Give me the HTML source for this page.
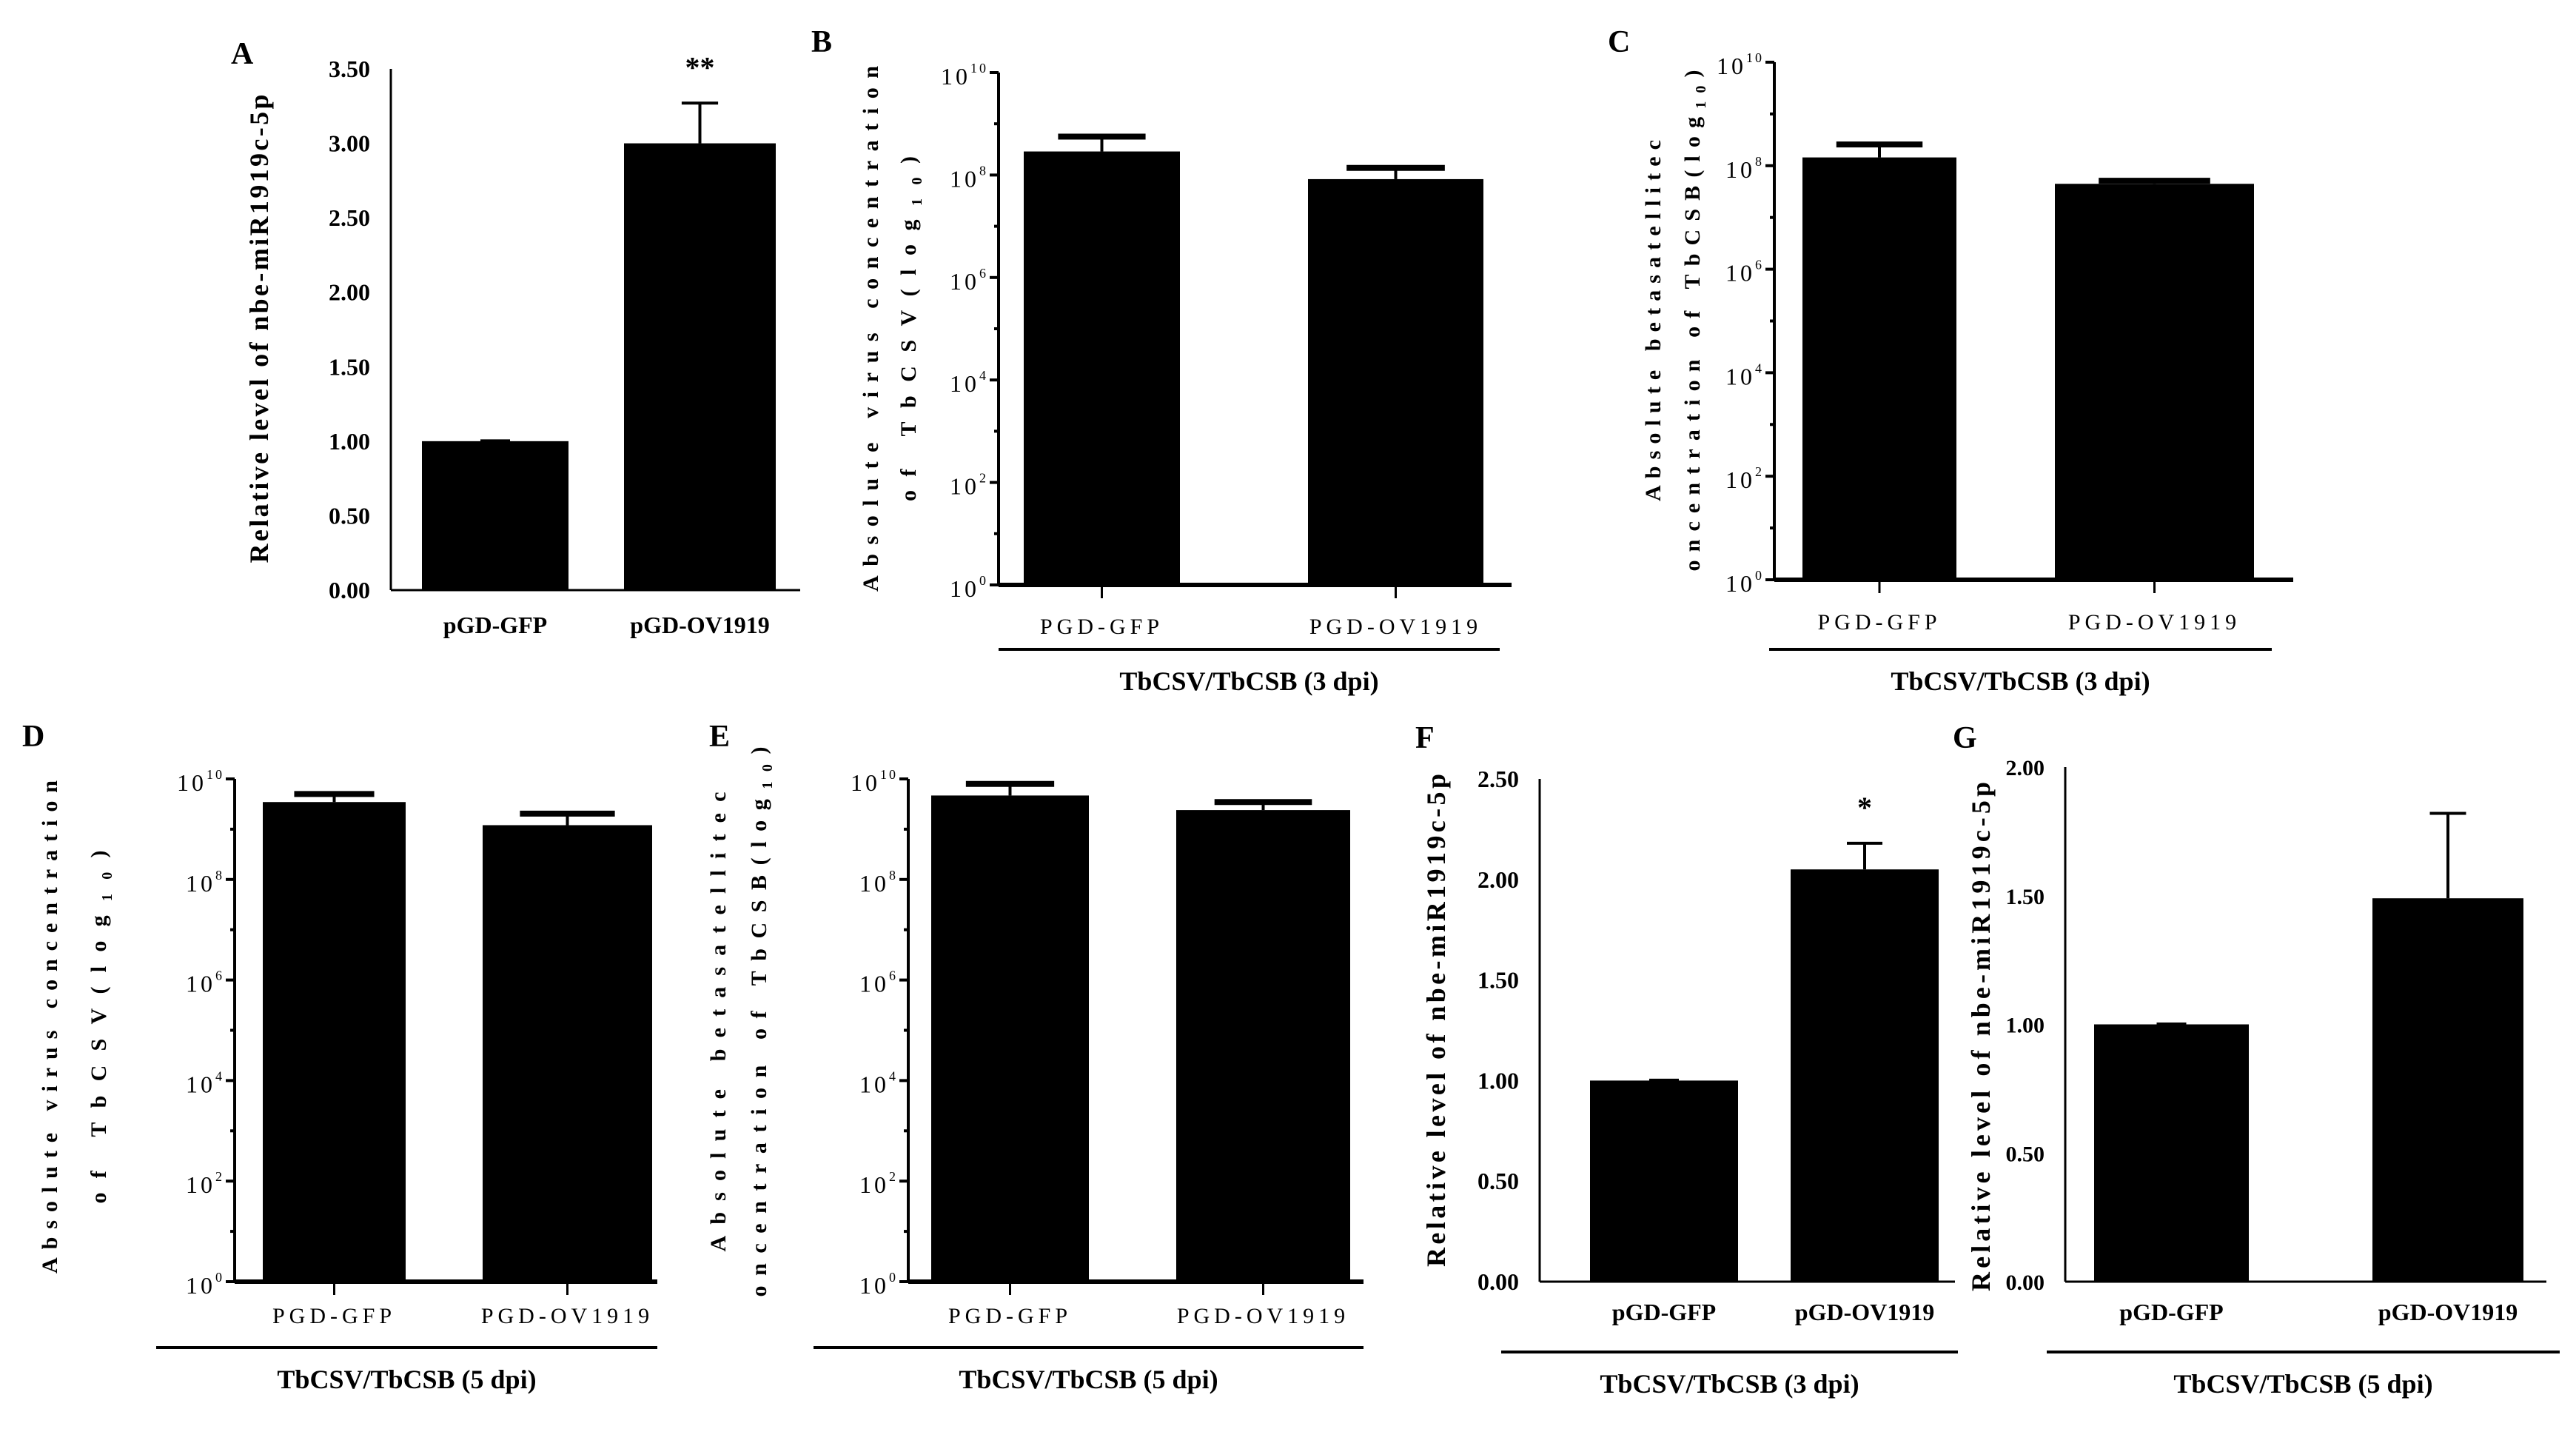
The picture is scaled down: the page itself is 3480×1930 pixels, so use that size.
<!DOCTYPE html>
<html><head><meta charset="utf-8"><style>
html,body{margin:0;padding:0;background:#fff;}
svg{display:block;font-family:"Liberation Serif",serif;}
</style></head><body>
<svg id="fig" width="3480" height="1930" viewBox="0 0 3480 1930" xmlns="http://www.w3.org/2000/svg"></svg>
<script>
const catsRel = ["pGD-GFP","pGD-OV1919"];
const catsLog = ["PGD-GFP","PGD-OV1919"];
const valsA = [1.00, 3.00];
const errA = [1.00, 3.27];
const valsF = [1.00, 2.05];
const errF = [1.00, 2.18];
const valsG = [1.00, 1.49];
const errG = [1.00, 1.82];
const logB = [8.46, 7.92];
const logErrB = [8.75, 8.14];
const logC = [8.16, 7.65];
const logErrC = [8.41, 7.71];
const logD = [9.54, 9.08];
const logErrD = [9.70, 9.31];
const logE = [9.67, 9.38];
const logErrE = [9.90, 9.54];
const ticksA = [0,0.5,1,1.5,2,2.5,3,3.5];
const ticksF = [0,0.5,1,1.5,2,2.5];
const ticksG = [0,0.5,1,1.5,2];
const logTicks = [0,2,4,6,8,10];

const NS="http://www.w3.org/2000/svg";
const svg=document.getElementById('fig');
function el(tag,attrs,parent){const e=document.createElementNS(NS,tag);for(const k in attrs)e.setAttribute(k,attrs[k]);(parent||svg).appendChild(e);return e;}

function panel(cfg){
  const g=el('g',{});
  
  
  const yMin=cfg.yMin,yMax=cfg.yMax;
  const ys=v=>cfg.y1-(v-yMin)/(yMax-yMin)*(cfg.y1-cfg.y0);
  const lw=cfg.log?6:3;
  const ya=el('line',{x1:cfg.ax,y1:cfg.y0,x2:cfg.ax,y2:cfg.y1,stroke:'#000','stroke-width':cfg.log?4:3},g);
  
  
  const xa=el('line',{x1:cfg.ax,y1:cfg.y1,x2:cfg.axEnd,y2:cfg.y1,stroke:'#000','stroke-width':lw},g);
  
  
  if(cfg.log){
    for(let e=yMin;e<=yMax;e++){
      const y=ys(e);
      const len=(e%2===0)?12:6;
      el('line',{x1:cfg.ax-len,y1:y,x2:cfg.ax,y2:y,stroke:'#000','stroke-width':4},g);
    }
    logTicks.forEach(t=>{
      const tx=el('text',{x:cfg.ax-14,y:ys(t)+16,'text-anchor':'end','font-size':32,fill:'#000'},g);
      
      
      const a=el('tspan',{'letter-spacing':4},tx);a.textContent='10';
      const b=el('tspan',{dy:-16,'font-size':18,'letter-spacing':3},tx);b.textContent=String(t);
    });
  } else {
    cfg.ticks.forEach(t=>{
      const tx=el('text',{x:cfg.ax-cfg.tickOff,y:ys(t)+11,'text-anchor':'end','font-size':cfg.tickFs,'font-weight':'bold',fill:'#000'},g);
      
      
      tx.textContent=t.toFixed(2);
    });
  }
  cfg.vals.forEach((v,i)=>{
    const x0=cfg.bars[i][0],x1=cfg.bars[i][1],cx=(x0+x1)/2;
    const r=el('rect',{x:x0,y:ys(v),width:x1-x0,height:cfg.y1-ys(v),fill:'#000'},g);
    
    
    const e=cfg.errs[i];
    if(e>v){
      const capW=cfg.log?(x1-x0)*0.28:(x1-x0)*0.12;
      el('line',{x1:cx,y1:ys(v),x2:cx,y2:ys(e),stroke:'#000','stroke-width':4},g);
      const c=el('line',{x1:cx-capW,y1:ys(e),x2:cx+capW,y2:ys(e),stroke:'#000','stroke-width':cfg.log?8:4},g);
      
      
    } else {
      el('line',{x1:cx-20,y1:ys(e)-1,x2:cx+20,y2:ys(e)-1,stroke:'#000','stroke-width':3},g);
    }
    if(cfg.log) el('line',{x1:cx,y1:cfg.y1,x2:cx,y2:cfg.y1+18,stroke:'#000','stroke-width':3},g);
    const lab=el('text',{x:cx,y:cfg.xLabY,'text-anchor':'middle','font-size':cfg.log?30:32,'font-weight':cfg.log?'normal':'bold','letter-spacing':cfg.log?6:0,fill:'#000'},g);
    
    
    lab.textContent=cfg.cats[i];
  });
  cfg.titles.forEach(t=>{
    const tx=el('text',{x:0,y:0,transform:`translate(${t.x},${t.cy}) rotate(-90)`,'text-anchor':'middle','font-size':cfg.log?30:36,'font-weight':'bold',fill:'#000',textLength:t.len,lengthAdjust:'spacing'},g);
    
    
    if(t.sub){
      const a=el('tspan',{},tx);a.textContent=t.text;
      const b=el('tspan',{'font-size':20,dy:8},tx);b.textContent='10';
      const c=el('tspan',{dy:-8},tx);c.textContent=')';
    } else tx.textContent=t.text;
  });
  if(cfg.br){
    const bl=el('line',{x1:cfg.br[0],y1:cfg.br[2],x2:cfg.br[1],y2:cfg.br[2],stroke:'#000','stroke-width':4},g);
    
    
    const bt=el('text',{x:(cfg.br[0]+cfg.br[1])/2,y:cfg.br[2]+55,'text-anchor':'middle','font-size':36,'font-weight':'bold',fill:'#000'},g);
    
    
    bt.textContent=cfg.brText;
  }
  if(cfg.sig){
    const s=el('text',{x:(cfg.bars[1][0]+cfg.bars[1][1])/2,y:ys(cfg.errs[1])-35,'text-anchor':'middle','font-size':40,'font-weight':'bold',fill:'#000'},g);
    
    
    s.textContent=cfg.sig;
  }
  const L=el('text',{x:cfg.letter[0],y:cfg.letter[1],'font-size':42,'font-weight':'bold',fill:'#000'},g);
  
  
  L.textContent=cfg.id;
}

panel({id:'A',log:false,yMin:0,yMax:3.5,ticks:ticksA,tickOff:28,tickFs:32,ax:528,axEnd:1081,y0:93,y1:797,bars:[[570,768],[843,1048]],vals:valsA,errs:errA,cats:catsRel,xLabY:855,
  titles:[{x:362,cy:444,len:633,text:'Relative level of nbe-miR1919c-5p'}],sig:'**',letter:[312,86]});
panel({id:'B',log:true,yMin:0,yMax:10,ax:1349,axEnd:2042,y0:98,y1:790,bars:[[1383,1594],[1767,2004]],vals:logB,errs:logErrB,cats:catsLog,xLabY:856,
  titles:[{x:1186,cy:444,len:710,text:'Absolute virus concentration'},{x:1237,cy:444,len:466,text:'of TbCSV(log',sub:true}],br:[1349,2026,877],brText:'TbCSV/TbCSB (3 dpi)',letter:[1096,70]});
panel({id:'C',log:true,yMin:0,yMax:10,ax:2397,axEnd:3098,y0:84,y1:783,bars:[[2435,2643],[2776,3045]],vals:logC,errs:logErrC,cats:catsLog,xLabY:850,
  titles:[{x:2243,cy:433,len:488,text:'Absolute betasatellitec'},{x:2296,cy:433,len:677,text:'oncentration of TbCSB(log',sub:true}],br:[2390,3069,877],brText:'TbCSV/TbCSB (3 dpi)',letter:[2172,70]});
panel({id:'D',log:true,yMin:0,yMax:10,ax:317,axEnd:888,y0:1052,y1:1731,bars:[[355,548],[652,881]],vals:logD,errs:logErrD,cats:catsLog,xLabY:1787,
  titles:[{x:77,cy:1387,len:666,text:'Absolute virus concentration'},{x:143,cy:1387,len:477,text:'of TbCSV(log',sub:true}],br:[211,888,1820],brText:'TbCSV/TbCSB (5 dpi)',letter:[30,1008]});
panel({id:'E',log:true,yMin:0,yMax:10,ax:1227,axEnd:1842,y0:1052,y1:1731,bars:[[1258,1471],[1589,1824]],vals:logE,errs:logErrE,cats:catsLog,xLabY:1787,
  titles:[{x:980,cy:1380,len:621,text:'Absolute betasatellitec'},{x:1035,cy:1380,len:743,text:'oncentration of TbCSB(log',sub:true}],br:[1099,1842,1820],brText:'TbCSV/TbCSB (5 dpi)',letter:[958,1008]});
panel({id:'F',log:false,yMin:0,yMax:2.5,ticks:ticksF,tickOff:28,tickFs:32,ax:2080,axEnd:2641,y0:1052,y1:1731,bars:[[2148,2348],[2419,2619]],vals:valsF,errs:errF,cats:catsRel,xLabY:1783,
  titles:[{x:1952,cy:1378,len:666,text:'Relative level of nbe-miR1919c-5p'}],br:[2028,2645,1826],brText:'TbCSV/TbCSB (3 dpi)',sig:'*',letter:[1912,1010]});
panel({id:'G',log:false,yMin:0,yMax:2.0,ticks:ticksG,tickOff:28,tickFs:30,ax:2790,axEnd:3440,y0:1036,y1:1731,bars:[[2829,3038],[3205,3409]],vals:valsG,errs:errG,cats:catsRel,xLabY:1783,
  titles:[{x:2688,cy:1400,len:688,text:'Relative level of nbe-miR1919c-5p'}],br:[2765,3458,1826],brText:'TbCSV/TbCSB (5 dpi)',letter:[2638,1010]});
</script>
</body></html>
